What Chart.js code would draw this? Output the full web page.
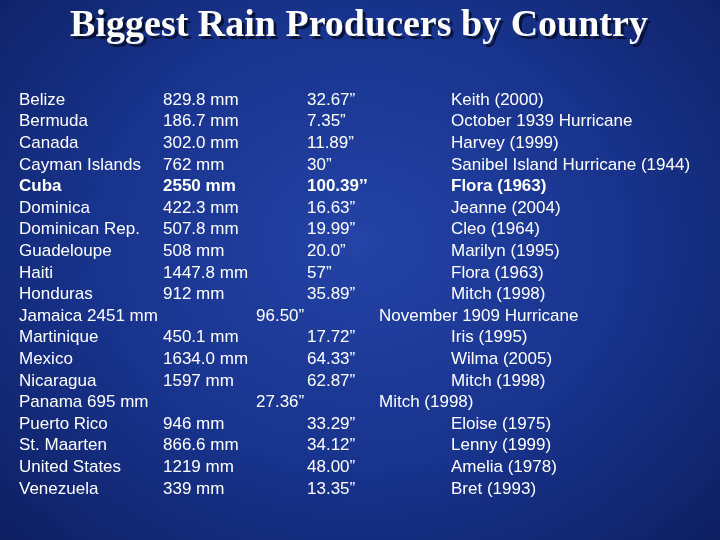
<!DOCTYPE html>
<html>
<head>
<meta charset="utf-8">
<script src="https://cdn.jsdelivr.net/npm/chart.js@4"></script>
<style>
  html, body { margin: 0; padding: 0; }
  body {
    width: 720px; height: 540px; overflow: hidden;
    background: radial-gradient(ellipse 75% 85% at 50% 45%, #2443a6 0%, #18338c 50%, #0c1c5a 100%);
  }
  #wrap { width: 720px; height: 540px; }
</style>
</head>
<body>
<div id="wrap"><canvas id="rainChart"></canvas></div>
<script>
var titleText = 'Biggest Rain Producers by Country';
var countries = ['Belize', 'Bermuda', 'Canada', 'Cayman Islands', 'Cuba', 'Dominica', 'Dominican Rep.', 'Guadeloupe', 'Haiti', 'Honduras', 'Jamaica', 'Martinique', 'Mexico', 'Nicaragua', 'Panama', 'Puerto Rico', 'St. Maarten', 'United States', 'Venezuela'];
var rainMm = ['829.8 mm', '186.7 mm', '302.0 mm', '762 mm', '2550 mm', '422.3 mm', '507.8 mm', '508 mm', '1447.8 mm', '912 mm', '2451 mm', '450.1 mm', '1634.0 mm', '1597 mm', '695 mm', '946 mm', '866.6 mm', '1219 mm', '339 mm'];
var rainIn = ['32.67\u201d', '7.35\u201d', '11.89\u201d', '30\u201d', '100.39\u2019\u2019', '16.63\u201d', '19.99\u201d', '20.0\u201d', '57\u201d', '35.89\u201d', '96.50\u201d', '17.72\u201d', '64.33\u201d', '62.87\u201d', '27.36\u201d', '33.29\u201d', '34.12\u201d', '48.00\u201d', '13.35\u201d'];
var storms = ['Keith (2000)', 'October 1939 Hurricane', 'Harvey (1999)', 'Sanibel Island Hurricane (1944)', 'Flora (1963)', 'Jeanne (2004)', 'Cleo (1964)', 'Marilyn (1995)', 'Flora (1963)', 'Mitch (1998)', 'November 1909 Hurricane', 'Iris (1995)', 'Wilma (2005)', 'Mitch (1998)', 'Mitch (1998)', 'Eloise (1975)', 'Lenny (1999)', 'Amelia (1978)', 'Bret (1993)'];
var boldRows = [4];
var shiftedRows = [10, 14];

var tablePlugin = {
  id: 'tableText',
  afterDraw: function (chart) {
    var ctx = chart.ctx;
    var yScale = chart.scales.y;
    ctx.save();
    ctx.fillStyle = 'rgba(0,0,0,0.6)';
    ctx.font = 'bold 38px "Liberation Serif", "DejaVu Serif", serif';
    ctx.textAlign = 'center';
    ctx.textBaseline = 'middle';
    ctx.fillText(titleText, 362, 29);
    ctx.fillStyle = '#ffffff';
    ctx.fillText(titleText, 359, 26);

    ctx.textAlign = 'left';
    countries.forEach(function (c, i) {
      var y = yScale.getPixelForValue(i);
      var bold = boldRows.indexOf(i) >= 0;
      ctx.font = (bold ? 'bold ' : '') + '17px "Liberation Sans", Arial, sans-serif';
      ctx.fillStyle = '#ffffff';
      if (shiftedRows.indexOf(i) >= 0) {
        ctx.fillText(c + ' ' + rainMm[i], 19, y);
        ctx.fillText(rainIn[i], 256, y);
        ctx.fillText(storms[i], 379, y);
      } else {
        ctx.fillText(c, 19, y);
        ctx.fillText(rainMm[i], 163, y);
        ctx.fillText(rainIn[i], 307, y);
        ctx.fillText(storms[i], 451, y);
      }
    });
    ctx.restore();
  }
};

new Chart(document.getElementById('rainChart'), {
  type: 'scatter',
  data: {
    datasets: [{
      data: countries.map(function (c, i) { return { x: 0, y: i }; }),
      pointRadius: 0
    }]
  },
  options: {
    responsive: true,
    maintainAspectRatio: false,
    animation: false,
    layout: { padding: { top: 100, bottom: 51, left: 0, right: 0 } },
    plugins: { legend: { display: false }, tooltip: { enabled: false } },
    scales: {
      x: { display: false, min: -1, max: 1 },
      y: { display: false, reverse: true, min: 0, max: countries.length - 1 }
    }
  },
  plugins: [tablePlugin]
});
</script>
</body>
</html>
